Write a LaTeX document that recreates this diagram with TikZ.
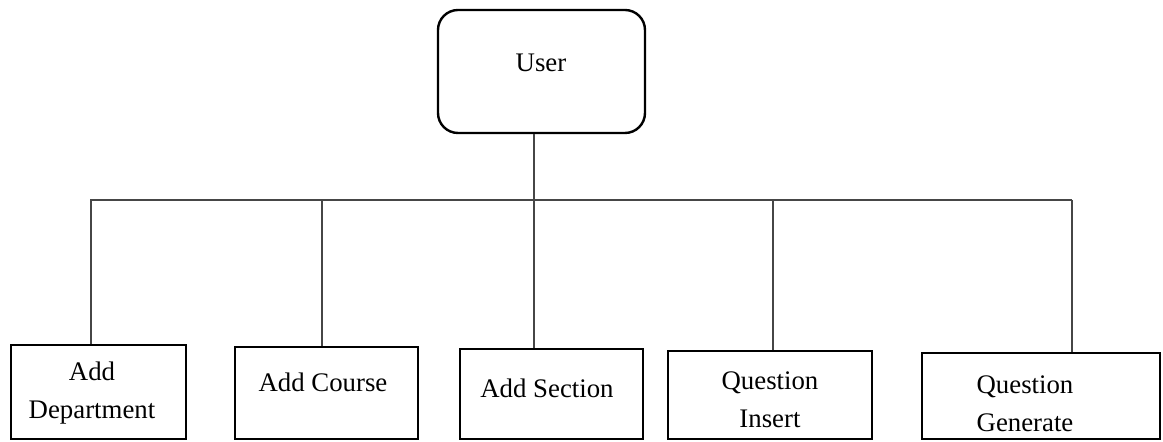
\documentclass[tikz,border=0pt]{standalone}
\usepackage{fontspec}
\setmainfont{Liberation Serif}
\usetikzlibrary{positioning,calc}

\begin{document}
\begin{tikzpicture}[
    x=0.5pt, y=-0.5pt,
    box/.style={
        draw,
        line width=1.2pt,
        inner sep=0pt
    },
    rbox/.style={box, rounded corners=10pt},
    txt/.style={
        align=center,
        inner sep=0pt,
        font=\fontsize{13.4}{19}\selectfont
    },
    link/.style={draw=gray!55!black, line width=0.7pt}
]
\useasboundingbox (0,0) rectangle (1163,442);

% top node
\node[rbox, minimum width=103.5pt, minimum height=61.5pt] (user) at (541.5,71.5) {};
\node[txt] (user-t) at (541,63) {User};

% bottom row
\node[box, minimum width=87.5pt, minimum height=47pt] (dept) at (98.5,392) {};
\node[box, minimum width=91.5pt, minimum height=46pt] (course) at (326.5,393) {};
\node[box, minimum width=91.5pt, minimum height=45pt] (section) at (551.5,394) {};
\node[box, minimum width=102pt, minimum height=44pt] (insert) at (770,395) {};
\node[box, minimum width=119pt, minimum height=43pt] (generate) at (1041,396) {};

\node[txt] (dept-t) at (92,393) {Add\\Department};
\node[txt] (course-t) at (323,382) {Add Course};
\node[txt] (section-t) at (547,388) {Add Section};
\node[txt] (insert-t) at (770,400) {Question\\Insert};
\node[txt] (generate-t) at (1025,404) {Question\\Generate};

% bus
\coordinate (busL) at (90,200);
\coordinate (busR) at (1072,200);
\coordinate (bus) at (534,200);
\coordinate (d1) at (91,200);
\coordinate (d2) at (322,200);
\coordinate (d4) at (773,200);

\draw[link] (bus |- user.south) -- (bus);
\draw[link] (busL) -- (busR);
\foreach \d/\b in {d1/dept, d2/course, bus/section, d4/insert, busR/generate}
    \draw[link] (\d) -- (\d |- \b.north);

\end{tikzpicture}
\end{document}
